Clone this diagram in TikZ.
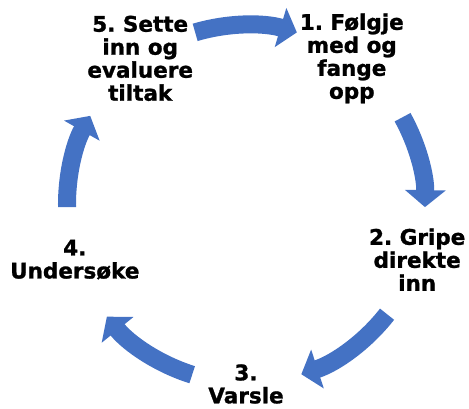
\documentclass[tikz,border=0pt]{standalone}
\usepackage{fontspec}
\setmainfont{DejaVu Sans}[BoldFeatures={FakeBold=1.2}]
\usetikzlibrary{arrows.meta}
\definecolor{cycleblue}{HTML}{4472C4}
\frenchspacing
\tikzset{
    stage/.style={align=center, inner sep=0pt, font=\fontsize{21.5}{23}\selectfont\bfseries},
    cycle arrow/.style={draw=cycleblue, line width=18pt, -{Triangle[width=40pt, length=17pt]}}
}
\begin{document}
\begin{tikzpicture}[x=1pt, y=1pt]
        \useasboundingbox (-246,-204) rectangle (223,204);
        \coordinate (c) at (0,0);
        % steps around the circle
        \node[stage] (s1) at (54:180)   {1. Følgje\\med og\\fange\\opp};
        \node[stage] (s2) at (-18:180)  {2. Gripe\\direkte\\inn};
        \node[stage] (s3) at (-90:180)  {3.\\Varsle};
        \node[stage] (s4) at (-162:180) {4.\\Undersøke};
        \node[stage] (s5) at (126:180)  {5. Sette\\inn og\\evaluere\\tiltak};
        % curved arrows between the steps
        \draw[cycle arrow] (c) ++(106.5:179pt) arc[start angle=106.5, end angle=73.5, radius=179pt];
        \draw[cycle arrow] (c) ++(29:179pt)    arc[start angle=29,    end angle=-1,   radius=179pt];
        \draw[cycle arrow] (c) ++(-38:179pt)   arc[start angle=-38,   end angle=-72,  radius=179pt];
        \draw[cycle arrow] (c) ++(-107.5:179pt) arc[start angle=-107.5, end angle=-141, radius=179pt];
        \draw[cycle arrow] (c) ++(181:179pt)   arc[start angle=181,   end angle=150.5, radius=179pt];
    \end{tikzpicture}
\end{document}
